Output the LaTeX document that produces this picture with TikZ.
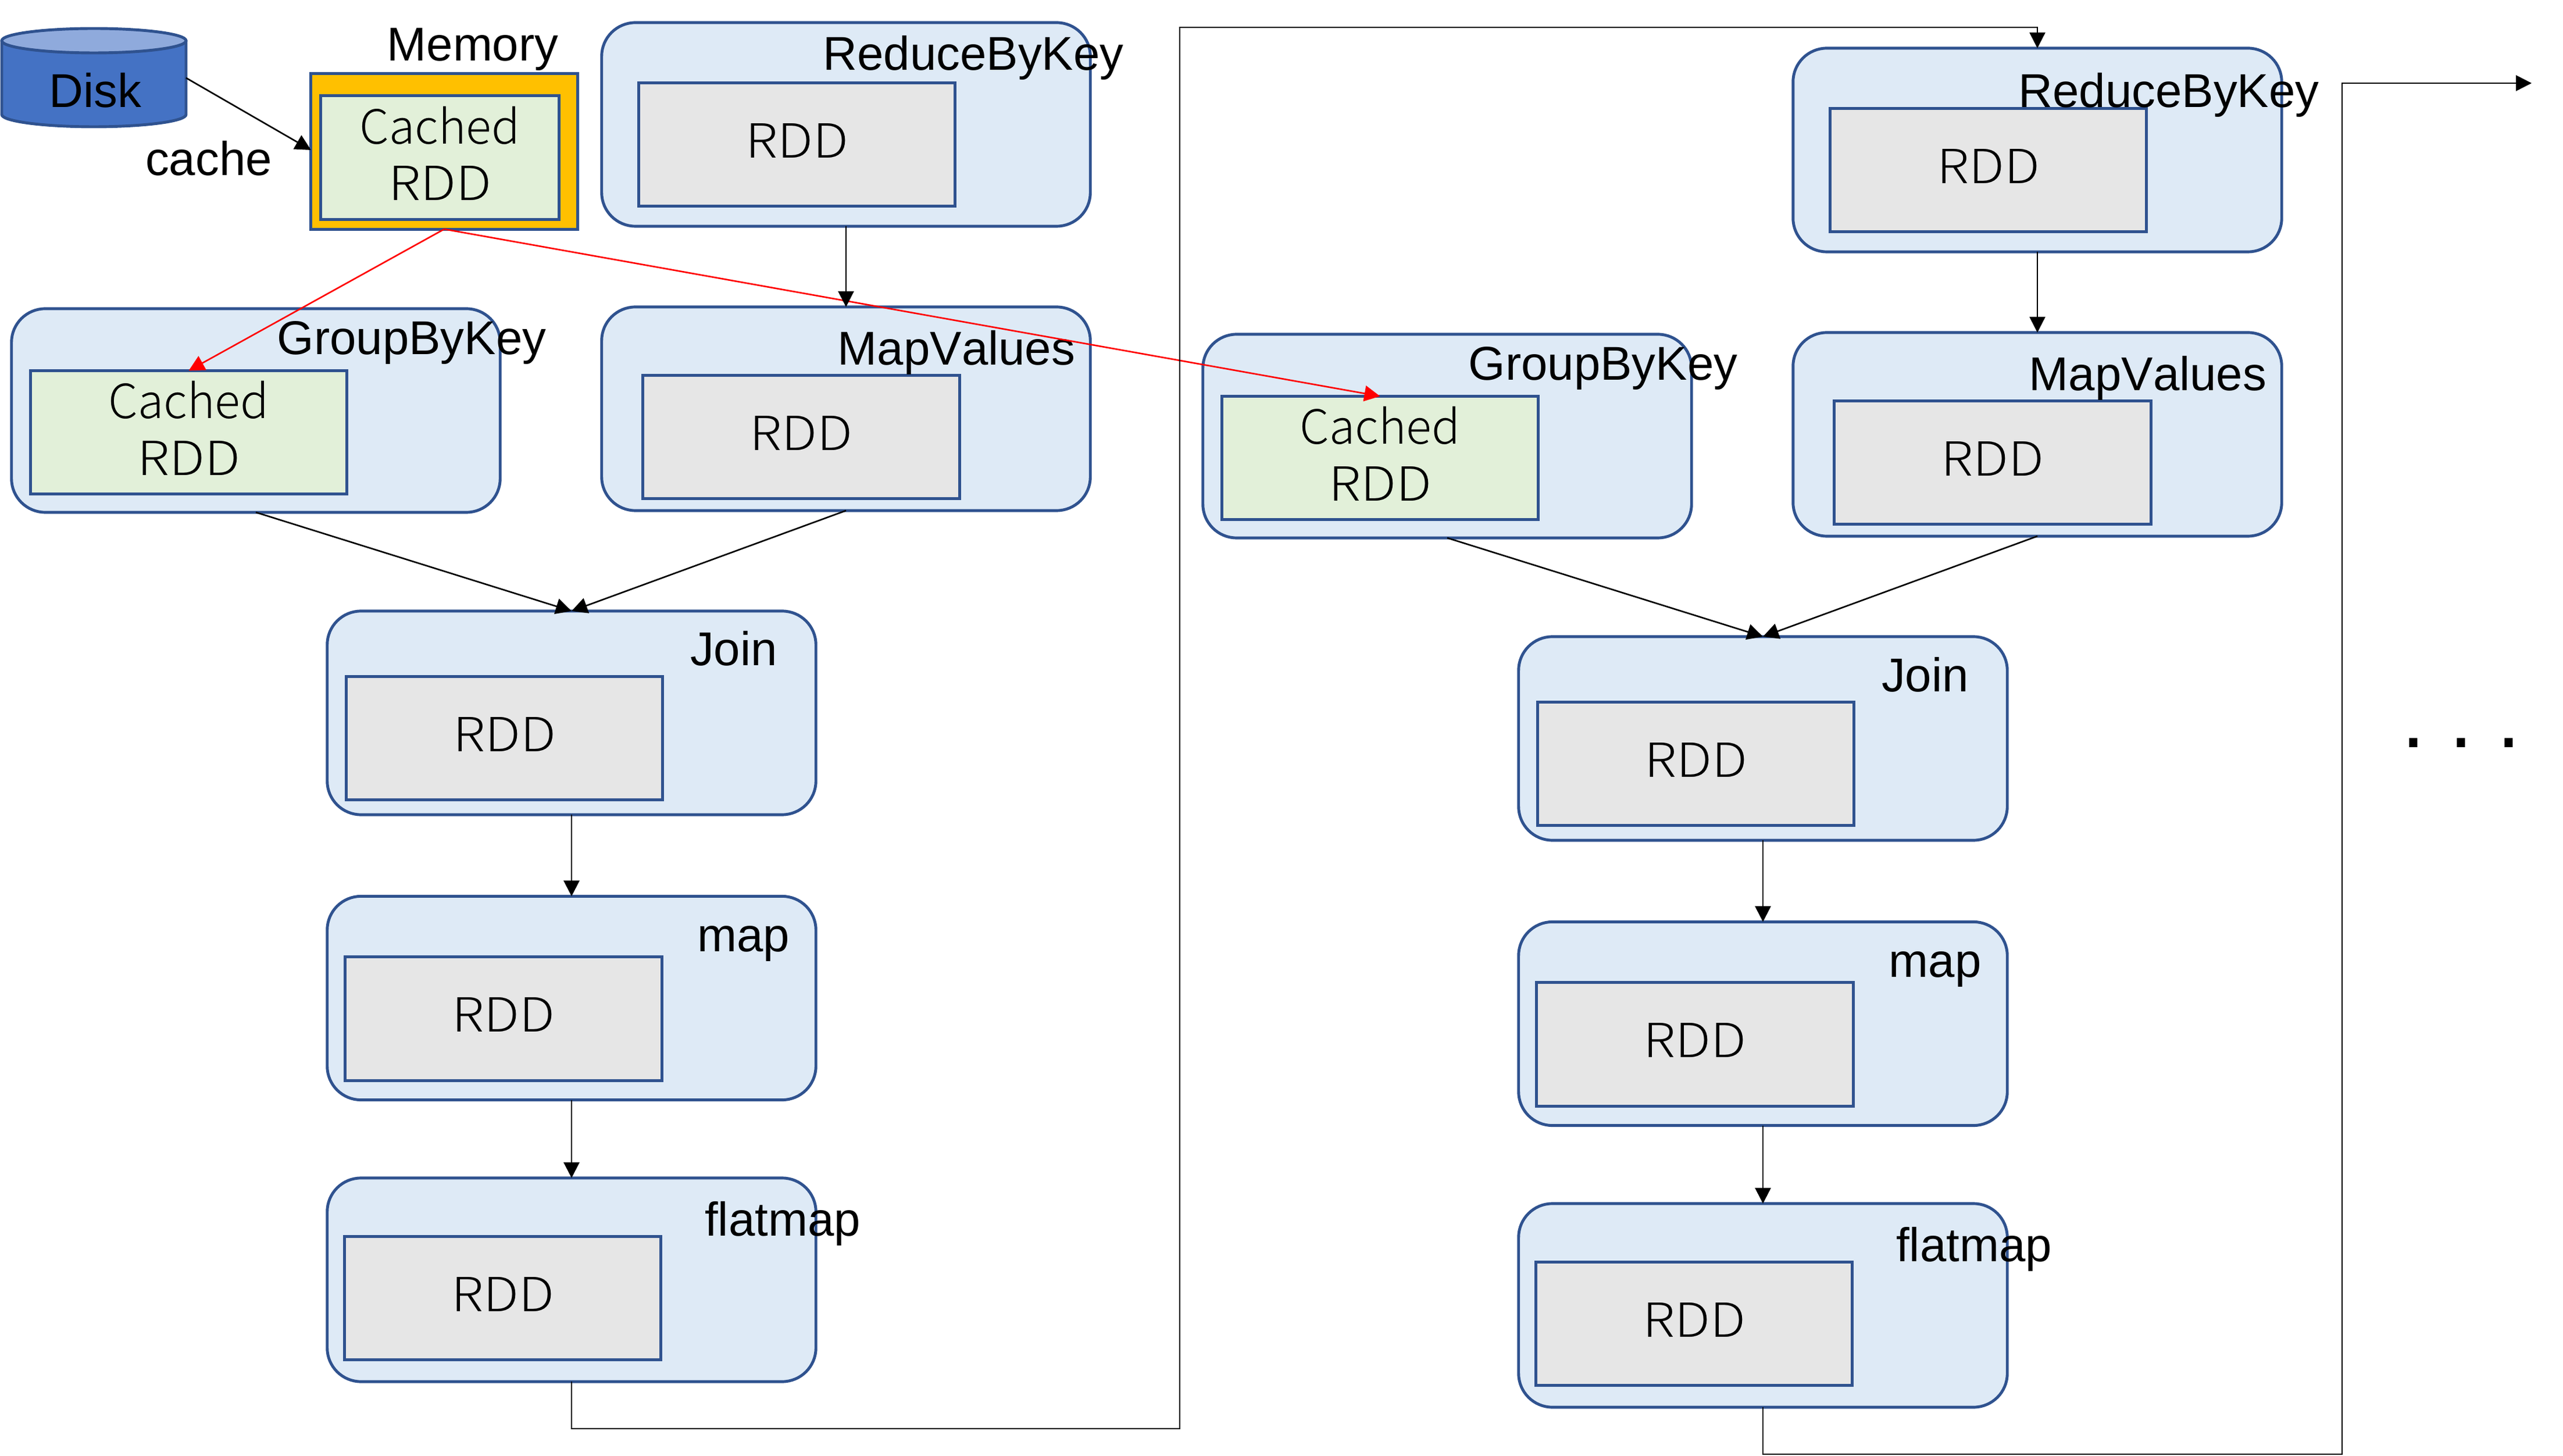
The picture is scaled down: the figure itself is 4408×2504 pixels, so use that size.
\documentclass[tikz,border=0pt]{standalone}
\usepackage{fontspec}
\setmainfont[Kerning=Off]{Liberation Sans}
\newfontfamily\rddfont{Noto Sans CJK JP Light}
\newfontfamily\rddwide[FakeStretch=1.12]{Noto Sans CJK JP Light}
\usetikzlibrary{arrows.meta}
\definecolor{stagefill}{HTML}{DEEAF6}
\definecolor{edgeblue}{HTML}{2F528F}
\definecolor{rddgray}{HTML}{E6E6E6}
\definecolor{cachegreen}{HTML}{E2F0D9}
\definecolor{memorange}{HTML}{FFC000}
\definecolor{diskblue}{HTML}{4472C4}
\definecolor{disktop}{HTML}{8FAADC}
\newcommand{\cachedtext}{\raisebox{0cm}[\dimexpr\height+0.112cm\relax][\depth]{\begin{tabular}{@{}c@{}}\rddfont Cached\\\rddwide RDD\end{tabular}}}
\tikzset{
  stage/.style={draw=edgeblue,fill=stagefill,line width=1.4pt,rounded corners=0.58cm,minimum width=8.40cm,minimum height=3.5cm,outer sep=0pt,inner sep=0pt},
  rddbox/.style={draw=edgeblue,fill=rddgray,line width=1.4pt,minimum width=5.44cm,minimum height=2.12cm,outer sep=0pt,inner sep=0pt,font=\rddwide\fontsize{23}{27.6}\selectfont,text height=0.59cm,text depth=0.14cm},
  cachebox/.style={draw=edgeblue,fill=cachegreen,line width=1.4pt,minimum width=5.44cm,minimum height=2.12cm,outer sep=0pt,inner sep=0pt,font=\rddfont\fontsize{23}{27.6}\selectfont},
  membox/.style={draw=edgeblue,fill=memorange,line width=1.4pt,minimum width=4.58cm,minimum height=2.67cm,outer sep=0pt,inner sep=0pt},
  lbl/.style={anchor=base,inner sep=0pt,font=\fontsize{23.2}{27.6}\selectfont},
  conn/.style={draw=black,line width=0.75pt,-{Triangle[length=0.27cm,width=0.27cm]}},
  redconn/.style={draw=red,line width=0.75pt,-{Triangle[length=0.27cm,width=0.27cm]}},
}
\begin{document}
\begin{tikzpicture}[x=0.01cm,y=-0.01cm]
\useasboundingbox (0,0) rectangle (4408,2504);
% disk
\fill[diskblue] (3,70) -- (3,197) arc[x radius=158.5,y radius=21,start angle=180,end angle=0] -- (320,70) -- cycle;
\draw[edgeblue,line width=1.4pt] (3,70) -- (3,197) arc[x radius=158.5,y radius=21,start angle=180,end angle=0] -- (320,70);
\draw[edgeblue,line width=1.4pt,fill=disktop] (161.5,70) ellipse[x radius=158.5,y radius=21];
\node[lbl] (disk) at (164,185) {Disk};
\coordinate (diskout) at (320,134);
% memory
\node[membox] (mem) at (764,260.5) {};
\node[cachebox,minimum width=4.09cm,minimum height=2.12cm] (memrdd) at (756.5,271) {\cachedtext};
\node[lbl] (memlabel) at (813,105) {Memory};
\node[lbl] (cachelabel) at (359,302) {cache};
% first column
\node[stage] (reduceA) at (1455,214) {};
\node[rddbox] (reduceArdd) at (1370.5,248.5) {RDD};
\node[lbl] (reduceAl) at (1674,121) {ReduceByKey};
\node[stage] (groupA) at (440,706) {};
\node[cachebox] (groupArdd) at (324.5,743.5) {\cachedtext};
\node[lbl] (groupAl) at (708,610) {GroupByKey};
\node[stage] (mapvA) at (1455,703) {};
\node[rddbox] (mapvArdd) at (1378,751.5) {RDD};
\node[lbl] (mapvAl) at (1645,628) {MapValues};
\node[stage] (joinA) at (983,1226) {};
\node[rddbox] (joinArdd) at (867.5,1269.5) {RDD};
\node[lbl] (joinAl) at (1262,1145) {Join};
\node[stage] (mapA) at (983,1716.5) {};
\node[rddbox] (mapArdd) at (866,1752) {RDD};
\node[lbl] (mapAl) at (1279,1636) {map};
\node[stage] (flatA) at (983,2201) {};
\node[rddbox] (flatArdd) at (864.5,2232.5) {RDD};
\node[lbl] (flatAl) at (1346,2125) {flatmap};
% second column
\node[stage] (reduceB) at (3504,258) {};
\node[rddbox] (reduceBrdd) at (3419.5,292.5) {RDD};
\node[lbl] (reduceBl) at (3730,185) {ReduceByKey};
\node[stage] (groupB) at (2489,750) {};
\node[cachebox] (groupBrdd) at (2373.5,787.5) {\cachedtext};
\node[lbl] (groupBl) at (2757,654) {GroupByKey};
\node[stage] (mapvB) at (3504,747) {};
\node[rddbox] (mapvBrdd) at (3427,795.5) {RDD};
\node[lbl] (mapvBl) at (3694,672) {MapValues};
\node[stage] (joinB) at (3032,1270) {};
\node[rddbox] (joinBrdd) at (2916.5,1313.5) {RDD};
\node[lbl] (joinBl) at (3311,1189) {Join};
\node[stage] (mapB) at (3032,1760.5) {};
\node[rddbox] (mapBrdd) at (2915,1796) {RDD};
\node[lbl] (mapBl) at (3328,1680) {map};
\node[stage] (flatB) at (3032,2245) {};
\node[rddbox] (flatBrdd) at (2913.5,2276.5) {RDD};
\node[lbl] (flatBl) at (3395,2169) {flatmap};
\node[lbl,font=\frenchspacing\fontsize{41.8}{50}\selectfont] (dots) at (4233,1285) {. . .};
% route points
\coordinate (turnA) at (2029,2457);
\coordinate (turnB) at (2029,47);
\coordinate (turnC) at (4028,2501);
\coordinate (turnD) at (4028,143);
\coordinate (exit) at (4354,143);
% connectors
\draw[conn] (diskout) -- (mem.west |- 0,258);
\draw[redconn] (mem.south) -- (groupArdd.north);
\draw[redconn] (mem.south) -- (groupBrdd.north);
\draw[conn] (reduceA.south) -- (mapvA.north);
\draw[conn] (groupA.south) -- (joinA.north);
\draw[conn] (mapvA.south) -- (joinA.north);
\draw[conn] (joinA.south) -- (mapA.north);
\draw[conn] (mapA.south) -- (flatA.north);
\draw[conn] (flatA.south) |- (turnA) -- (turnB) -| (reduceB.north);
\draw[conn] (reduceB.south) -- (mapvB.north);
\draw[conn] (groupB.south) -- (joinB.north);
\draw[conn] (mapvB.south) -- (joinB.north);
\draw[conn] (joinB.south) -- (mapB.north);
\draw[conn] (mapB.south) -- (flatB.north);
\draw[conn] (flatB.south) |- (turnC) -- (turnD) -- (exit);
\end{tikzpicture}
\end{document}
